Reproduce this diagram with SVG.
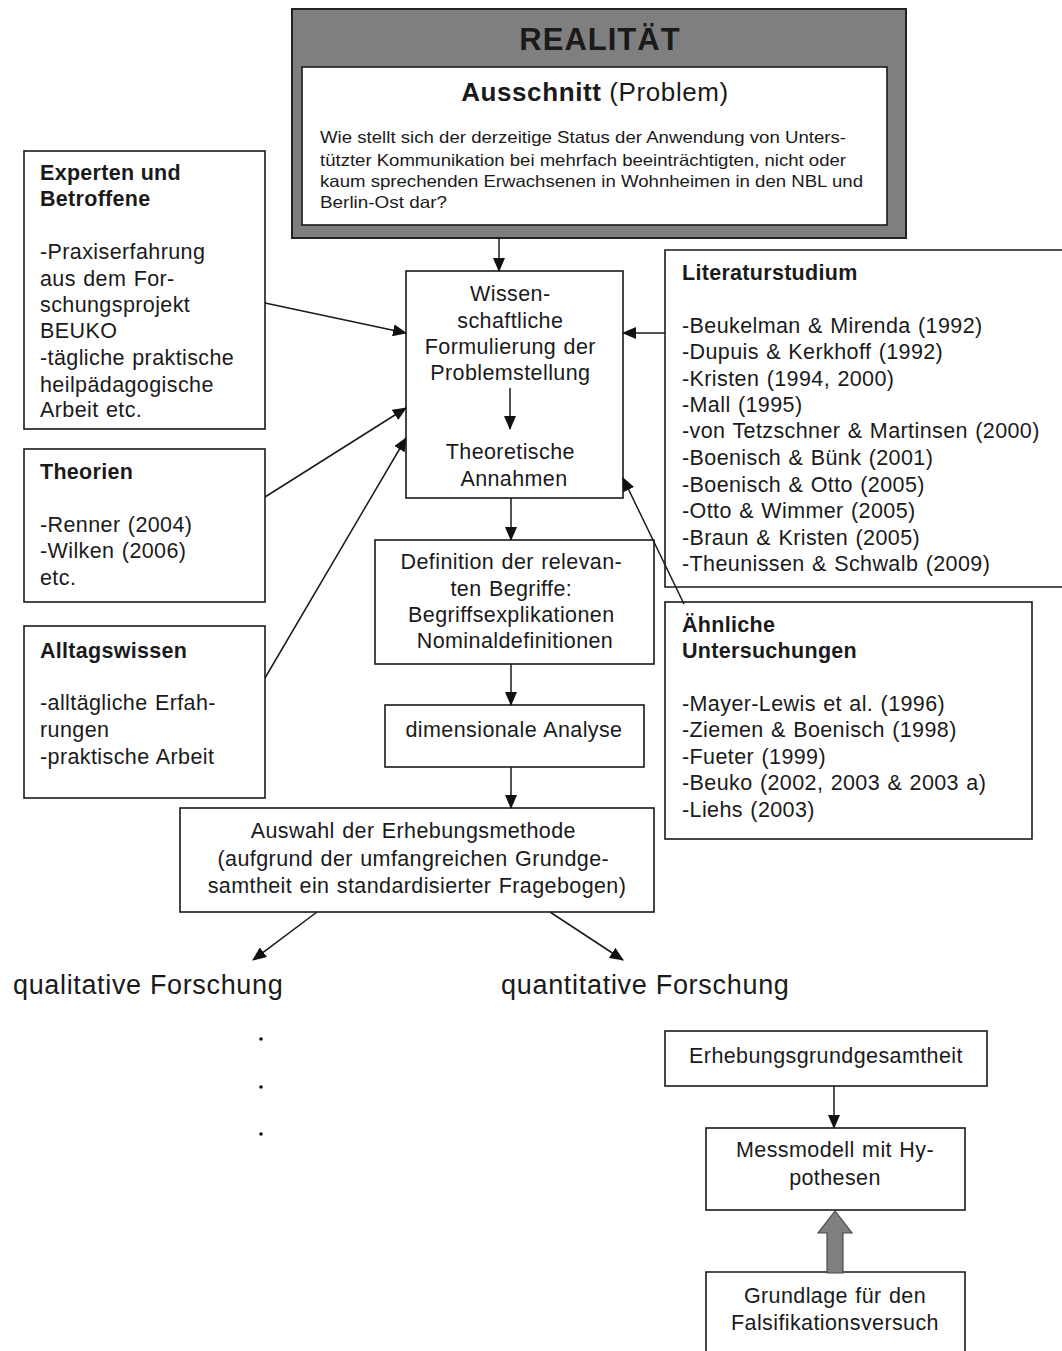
<svg xmlns="http://www.w3.org/2000/svg" width="1062" height="1351" viewBox="0 0 1062 1351">
  <style>
    .box { fill: #ffffff; stroke: #1a1a1a; stroke-width: 1.6; }
    .t { font-family: "Liberation Sans", Arial, sans-serif; fill: #1a1a1a; }
    .h { font-weight: bold; font-size: 21.5px; letter-spacing: 0.3px; }
    .b { font-size: 21.5px; letter-spacing: 0.4px; word-spacing: 1px; }
    .c { text-anchor: middle; }
    .link { stroke: #1a1a1a; stroke-width: 1.5; fill: none; marker-end: url(#ah); }
  </style>
  <defs>
    <marker id="ah" markerUnits="userSpaceOnUse" markerWidth="14" markerHeight="12" refX="13" refY="6" orient="auto">
      <path d="M0,0 L14,6 L0,12 Z" fill="#111"/>
    </marker>
  </defs>

  <rect width="1062" height="1351" fill="#ffffff"/>

  <!-- Reality frame with the problem excerpt -->
  <g id="realitaet">
    <rect x="292" y="9" width="614" height="229" fill="#7f7f7f" stroke="#222" stroke-width="2"/>
    <text class="t c" x="600" y="50" font-size="31" font-weight="bold" letter-spacing="1">REALITÄT</text>
    <rect x="302" y="67" width="585" height="158" class="box"/>
    <text class="t c" x="595" y="101" font-size="26" letter-spacing="0.6"><tspan font-weight="bold">Ausschnitt</tspan> (Problem)</text>
    <text class="t" font-size="16.5">
      <tspan x="320" y="143" textLength="526" lengthAdjust="spacingAndGlyphs">Wie stellt sich der derzeitige Status der Anwendung von Unters-</tspan>
      <tspan x="320" y="166" textLength="526" lengthAdjust="spacingAndGlyphs">tützter Kommunikation bei mehrfach beeinträchtigten, nicht oder</tspan>
      <tspan x="320" y="187" textLength="543" lengthAdjust="spacingAndGlyphs">kaum sprechenden Erwachsenen in Wohnheimen in den NBL und</tspan>
      <tspan x="320" y="208" textLength="127" lengthAdjust="spacingAndGlyphs">Berlin-Ost dar?</tspan>
    </text>
  </g>

  <!-- Scientific formulation of the problem -->
  <g id="formulierung">
    <rect x="406" y="271" width="217" height="227" class="box"/>
    <text class="t b c">
      <tspan x="514" y="301">Wissen-</tspan>
      <tspan x="514" y="328">schaftliche</tspan>
      <tspan x="514" y="354">Formulierung der</tspan>
      <tspan x="514" y="380">Problemstellung</tspan>
      <tspan x="514" y="459">Theoretische</tspan>
      <tspan x="514" y="486">Annahmen</tspan>
    </text>
    <line x1="510" y1="388" x2="510" y2="429" class="link"/>
  </g>

  <g id="experten">
    <rect x="24" y="151" width="241" height="278" class="box"/>
    <text class="t h"><tspan x="40" y="180">Experten und</tspan><tspan x="40" y="206">Betroffene</tspan></text>
    <text class="t b">
      <tspan x="40" y="259">-Praxiserfahrung</tspan>
      <tspan x="40" y="286">aus dem For-</tspan>
      <tspan x="40" y="312">schungsprojekt</tspan>
      <tspan x="40" y="338">BEUKO</tspan>
      <tspan x="40" y="365">-tägliche praktische</tspan>
      <tspan x="40" y="392">heilpädagogische</tspan>
      <tspan x="40" y="417">Arbeit etc.</tspan>
    </text>
  </g>

  <g id="theorien">
    <rect x="24" y="449" width="241" height="153" class="box"/>
    <text class="t h" x="40" y="479">Theorien</text>
    <text class="t b">
      <tspan x="40" y="532">-Renner (2004)</tspan>
      <tspan x="40" y="558">-Wilken (2006)</tspan>
      <tspan x="40" y="585">etc.</tspan>
    </text>
  </g>

  <g id="alltagswissen">
    <rect x="24" y="626" width="241" height="172" class="box"/>
    <text class="t h" x="40" y="658">Alltagswissen</text>
    <text class="t b">
      <tspan x="40" y="710">-alltägliche Erfah-</tspan>
      <tspan x="40" y="737">rungen</tspan>
      <tspan x="40" y="764">-praktische Arbeit</tspan>
    </text>
  </g>

  <!-- Literature study: open to the right edge -->
  <g id="literatur">
    <path d="M1062,250 H665 V587 H1062" class="box"/>
    <text class="t h" x="682" y="280">Literaturstudium</text>
    <text class="t b">
      <tspan x="682" y="333">-Beukelman &amp; Mirenda (1992)</tspan>
      <tspan x="682" y="359">-Dupuis &amp; Kerkhoff (1992)</tspan>
      <tspan x="682" y="386">-Kristen (1994, 2000)</tspan>
      <tspan x="682" y="412">-Mall (1995)</tspan>
      <tspan x="682" y="438">-von Tetzschner &amp; Martinsen (2000)</tspan>
      <tspan x="682" y="465">-Boenisch &amp; Bünk (2001)</tspan>
      <tspan x="682" y="492">-Boenisch &amp; Otto (2005)</tspan>
      <tspan x="682" y="518">-Otto &amp; Wimmer (2005)</tspan>
      <tspan x="682" y="545">-Braun &amp; Kristen (2005)</tspan>
      <tspan x="682" y="571">-Theunissen &amp; Schwalb (2009)</tspan>
    </text>
  </g>

  <g id="aehnliche">
    <rect x="665" y="602" width="367" height="237" class="box"/>
    <text class="t h"><tspan x="682" y="632">Ähnliche</tspan><tspan x="682" y="658">Untersuchungen</tspan></text>
    <text class="t b">
      <tspan x="682" y="711">-Mayer-Lewis et al. (1996)</tspan>
      <tspan x="682" y="737">-Ziemen &amp; Boenisch (1998)</tspan>
      <tspan x="682" y="764">-Fueter (1999)</tspan>
      <tspan x="682" y="790">-Beuko (2002, 2003 &amp; 2003 a)</tspan>
      <tspan x="682" y="817">-Liehs (2003)</tspan>
    </text>
  </g>

  <g id="definition">
    <rect x="375" y="540" width="279" height="124" class="box"/>
    <text class="t b c">
      <tspan x="515" y="569">Definition der relevan-</tspan>
      <tspan x="515" y="596">ten Begriffe:</tspan>
      <tspan x="515" y="622">Begriffsexplikationen</tspan>
      <tspan x="515" y="648">Nominaldefinitionen</tspan>
    </text>
  </g>

  <g id="dimensionale-analyse">
    <rect x="385" y="705" width="259" height="62" class="box"/>
    <text class="t b c" x="514" y="737">dimensionale Analyse</text>
  </g>

  <g id="erhebungsmethode">
    <rect x="180" y="808" width="474" height="104" class="box"/>
    <text class="t b c">
      <tspan x="417" y="838">Auswahl der Erhebungsmethode</tspan>
      <tspan x="417" y="866">(aufgrund der umfangreichen Grundge-</tspan>
      <tspan x="417" y="893">samtheit ein standardisierter Fragebogen)</tspan>
    </text>
  </g>

  <g id="qualitativ">
    <text class="t" font-size="27" letter-spacing="0.65" x="13" y="994">qualitative Forschung</text>
    <circle cx="261" cy="1039" r="1.8" fill="#111"/>
    <circle cx="261" cy="1087" r="1.8" fill="#111"/>
    <circle cx="261" cy="1134" r="1.8" fill="#111"/>
  </g>

  <g id="quantitativ">
    <text class="t" font-size="27" letter-spacing="0.7" x="501" y="994">quantitative Forschung</text>
  </g>

  <g id="grundgesamtheit">
    <rect x="665" y="1031" width="322" height="55" class="box"/>
    <text class="t b c" x="826" y="1063">Erhebungsgrundgesamtheit</text>
  </g>

  <g id="messmodell">
    <rect x="706" y="1128" width="259" height="82" class="box"/>
    <text class="t b c"><tspan x="835" y="1157">Messmodell mit Hy-</tspan><tspan x="835" y="1185">pothesen</tspan></text>
  </g>

  <g id="falsifikation">
    <path d="M706,1352 V1272 H965 V1352" class="box"/>
    <text class="t b c"><tspan x="835" y="1303">Grundlage für den</tspan><tspan x="835" y="1330">Falsifikationsversuch</tspan></text>
  </g>

  <!-- Connectors -->
  <g id="connectors">
    <line x1="499" y1="238" x2="499" y2="271" class="link"/>
    <line x1="265" y1="303" x2="406" y2="333" class="link"/>
    <line x1="265" y1="497" x2="406" y2="408" class="link"/>
    <line x1="265" y1="678" x2="406" y2="438" class="link"/>
    <line x1="665" y1="333" x2="623" y2="333" class="link"/>
    <line x1="684" y1="604" x2="623" y2="478" class="link"/>
    <line x1="511" y1="498" x2="511" y2="540" class="link"/>
    <line x1="511" y1="664" x2="511" y2="705" class="link"/>
    <line x1="511" y1="767" x2="511" y2="808" class="link"/>
    <line x1="317" y1="912" x2="253" y2="960" class="link"/>
    <line x1="550" y1="912" x2="623" y2="960" class="link"/>
    <line x1="834" y1="1086" x2="834" y2="1128" class="link"/>
    <path d="M835,1211 L818,1233 L827,1233 L827,1273 L843,1273 L843,1233 L852,1233 Z" fill="#7f7f7f" stroke="#4a4a4a" stroke-width="1.2"/>
  </g>
</svg>
